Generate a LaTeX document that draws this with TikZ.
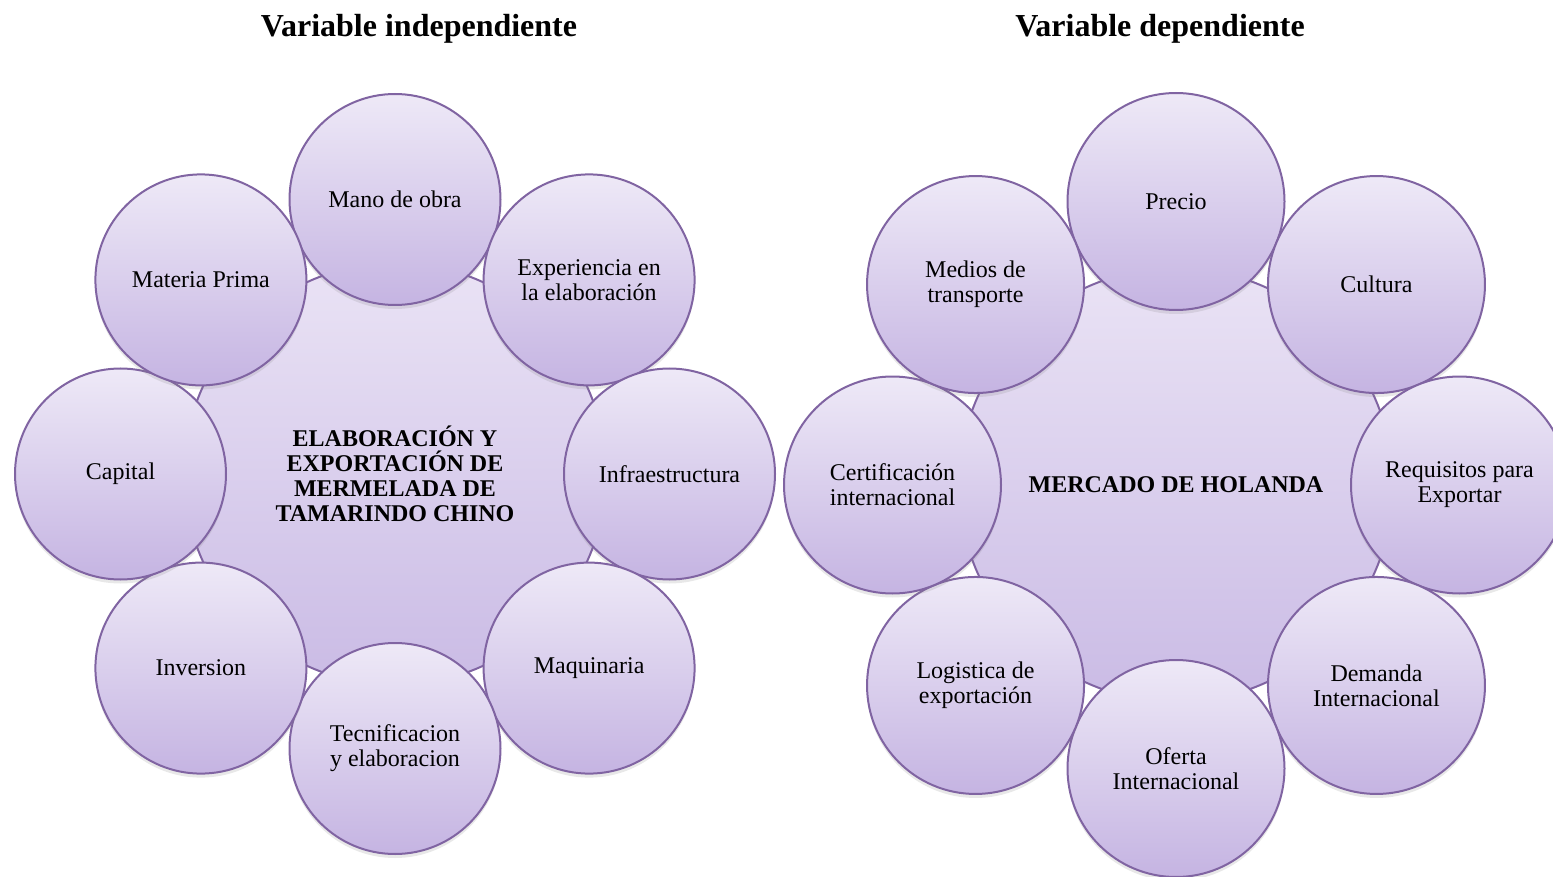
\documentclass[tikz,border=0pt]{standalone}
\usepackage{fontspec}
\setmainfont{Liberation Serif}
\usepackage{tikz}
\usetikzlibrary{shadows}
\usepackage{xcolor}
\definecolor{cycleline}{RGB}{128,100,162}
\definecolor{bubtop}{RGB}{238,233,247}
\definecolor{bubbot}{RGB}{197,180,226}
\definecolor{hubtop}{RGB}{234,227,245}
\definecolor{hubbot}{RGB}{202,187,229}
\tikzstyle{heading}=[font=\bfseries\fontsize{16}{19}\selectfont]
\tikzset{
  bubble/.style={circle,draw=cycleline,line width=1pt,
                 top color=bubtop,bottom color=bubbot,
                 minimum size=#1,inner sep=0pt,align=center,
                 font=\fontsize{12}{12.5}\selectfont,
                 drop shadow={opacity=0.18,shadow xshift=0pt,shadow yshift=-2pt}},
  bubble/.default=105.5pt,
  hub/.style={circle,draw=cycleline,line width=1pt,
              top color=hubtop,bottom color=hubbot,
              minimum size=#1,inner sep=0pt,align=center,
              font=\bfseries\fontsize{12}{12.5}\selectfont},
  hub/.default=211pt}

\begin{document}
\begin{tikzpicture}[x=0.5pt,y=0.5pt]
  \clip (0,0) rectangle (1553,-877);
  \def\Rl{274.5}
  \def\Rr{283.5}

  % TITLES
  \node[heading] (titleL) at (419,-29) {Variable independiente};
  \node[heading] (titleR) at (1160,-29) {Variable dependiente};

  % LEFT CYCLE
  \begin{scope}[shift={(395,-474)}]
    \node[hub] (hubL) at (0,0) {ELABORACIÓN Y\\EXPORTACIÓN DE\\MERMELADA DE\\TAMARINDO CHINO};
    \foreach \txt [count=\i, evaluate={\ang=90-(\i-1)*45;}] in
      {Mano de obra,{Experiencia en\\la elaboración},Infraestructura,Maquinaria,
       {Tecnificacion\\y elaboracion},Inversion,Capital,Materia Prima}{
      \node[bubble] (L\i) at (\ang:\Rl) {\txt};
    }
  \end{scope}

  % RIGHT CYCLE
  \begin{scope}[shift={(1176,-485)}]
    \node[hub=217pt] (hubR) at (0,0) {MERCADO DE HOLANDA};
    \foreach \txt [count=\i, evaluate={\ang=90-(\i-1)*45;}] in
      {Precio,Cultura,{Requisitos para\\Exportar},{Demanda\\Internacional},
       {Oferta\\Internacional},{Logistica de\\exportación},{Certificación\\internacional},
       {Medios de\\transporte}}{
      \node[bubble=108.5pt] (R\i) at (\ang:\Rr) {\txt};
    }
  \end{scope}

\end{tikzpicture}
\end{document}
